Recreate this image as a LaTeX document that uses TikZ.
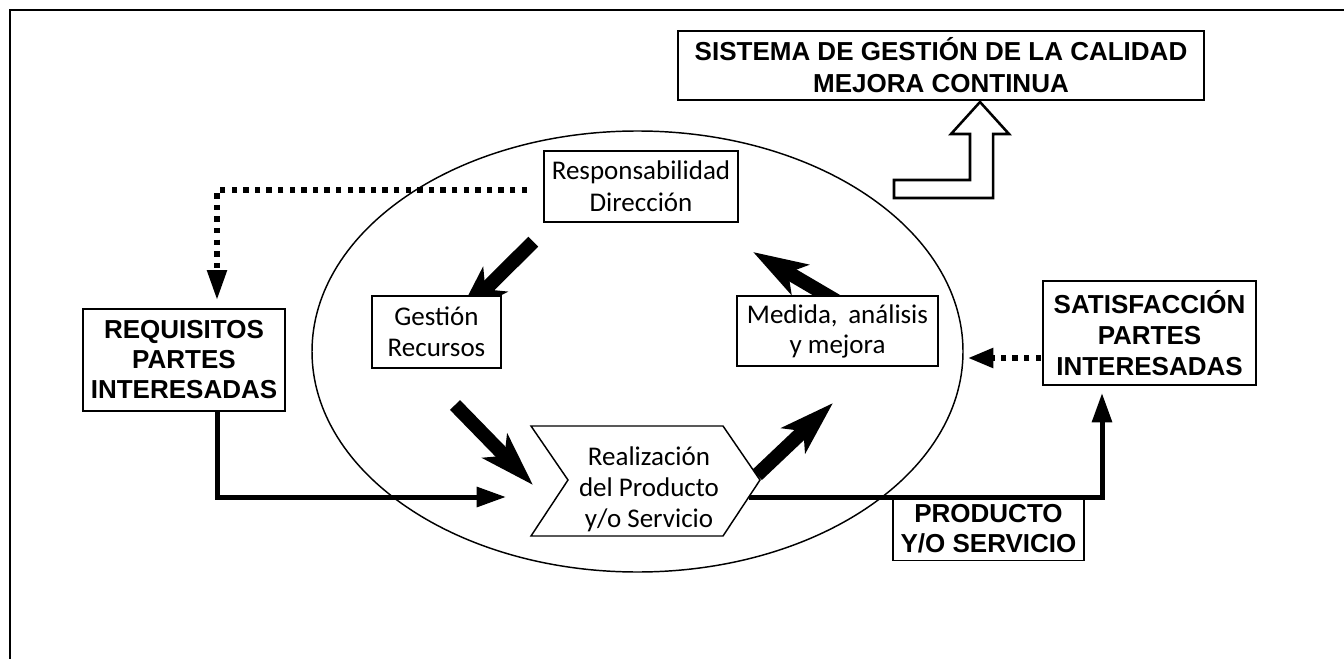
\documentclass[tikz,border=0pt]{standalone}
\usepackage{fontspec}
\newfontfamily\labfont{Liberation Sans}
\newfontfamily\regfont{Carlito}
\usetikzlibrary{arrows.meta,calc,shapes.geometric}
\begin{document}
\begin{tikzpicture}[x=0.75pt,y=-0.75pt,
  box/.style={draw, fill=white, line width=1.1pt, inner sep=0pt, align=center},
  boldlab/.style={font=\labfont\bfseries\fontsize{19.5}{22.5}\selectfont},
  reglab/.style={font=\regfont\fontsize{20.25}{23.25}\selectfont},
  fatarrow/.style={line width=10.5pt, line cap=butt, -{Stealth[length=40.5pt,width=25.5pt,inset=10pt]}},
  dotline/.style={line width=4.1pt, dash pattern=on 4.1pt off 4.6pt, -{Triangle[length=22.5pt,width=14.25pt]}},
  solidline/.style={line width=3.75pt, -{Triangle[length=22pt,width=14.5pt]}},
  hollow/.style={line width=1.9pt, fill=white, line join=miter}
]
\useasboundingbox (0,0) rectangle (1344,659);

% outer frame
\coordinate (fr1) at (10,659);
\coordinate (fr2) at (10,10);
\coordinate (fr3) at (1344,10);
\draw[line width=1.5pt] (fr1) -- (fr2) -- (fr3);

% ellipse
\node[draw, line width=1.1pt, ellipse, inner sep=0pt,
      minimum width=488.25pt, minimum height=330.75pt] (ell) at (637.5,351.5) {};

% fat arrow coordinates
\coordinate (fa1s) at (533.3,241.7);
\coordinate (fa1e) at (456.4,318);
\coordinate (fa2s) at (845,306);
\coordinate (fa2e) at (753,252);
\coordinate (fa3s) at (455,405);
\coordinate (fa3e) at (533,485);
\coordinate (fa4s) at (757,475);
\coordinate (fa4e) at (833,403);
\draw[fatarrow] (fa1s) -- (fa1e);
\draw[fatarrow] (fa2s) -- (fa2e);
\draw[fatarrow] (fa3s) -- (fa3e);
\draw[fatarrow] (fa4s) -- (fa4e);

% boxes
\node[box, minimum width=394.5pt, minimum height=51.75pt,
      font=\labfont\bfseries\fontsize{19.5}{24}\selectfont] (sgc) at (941,65.5)
      {SISTEMA DE GESTIÓN DE LA CALIDAD\\MEJORA CONTINUA};
\node[box, reglab, font=\regfont\fontsize{20.25}{24}\selectfont,
      minimum width=145.5pt, minimum height=53.25pt] (resp) at (641,186.5)
      {Responsabilidad\\Dirección};
\node[box, reglab, minimum width=96.75pt, minimum height=54pt] (gest) at (436.5,332)
      {Gestión\\Recursos};
\node[box, reglab, font=\regfont\fontsize{20.25}{22.5}\selectfont,
      minimum width=150.75pt, minimum height=52.5pt] (med) at (837.5,331)
      {Medida,\, análisis\\y mejora};
\node[box, boldlab, minimum width=151.5pt, minimum height=76.5pt] (req) at (184,360)
      {REQUISITOS\\PARTES\\INTERESADAS};
\node[box, boldlab, font=\labfont\bfseries\fontsize{19.5}{23.25}\selectfont,
      minimum width=159.75pt, minimum height=78pt] (sat) at (1149.5,333)
      {SATISFACCIÓN\\PARTES\\INTERESADAS};

% chevron (Realizacion)
\coordinate (ch1) at (531,426);
\coordinate (ch2) at (723,426);
\coordinate (chtip) at (760,480);
\coordinate (ch4) at (723,536);
\coordinate (ch5) at (531,536);
\coordinate (chnotch) at (568,480);
\draw[line width=1.1pt, fill=white, line join=miter] (ch1) -- (ch2) -- (chtip) -- (ch4) -- (ch5) -- (chnotch) -- cycle;
\node[reglab, align=center, inner sep=0pt] (real) at (649,489)
      {Realización\\del Producto\\y/o Servicio};

% dotted connectors
\coordinate (d1s) at (527,190);
\coordinate (d1c) at (217,190);
\coordinate (d1e) at (217,300);
\draw[dotline] (d1s) -- (d1c) -- (d1e);
\coordinate (d2s) at (1041,358);
\coordinate (d2e) at (968,358);
\draw[dotline, -{Triangle[length=19pt,width=14.25pt]}] (d2s) -- (d2e);

% solid connectors
\coordinate (s1s) at (217,411);
\coordinate (s1c) at (217,497);
\coordinate (s1e) at (506,497);
\draw[solidline] (s1s) -- (s1c) -- (s1e);
\coordinate (s2s) at (749,497);
\coordinate (s2c) at (1102,497);
\coordinate (s2e) at (1102,393);
\draw[solidline] (s2s) -- (s2c) -- (s2e);

% producto box
\node[box, boldlab, font=\labfont\bfseries\fontsize{19.5}{22.5}\selectfont,
      minimum width=143.25pt, minimum height=47.25pt] (prod) at (988.5,529)
      {PRODUCTO\\Y/O SERVICIO};
\draw[line width=3.75pt] (s2c -| prod.west) -- (s2c -| prod.east);

% hollow L arrow to SGC
\coordinate (ha) at (980,102);
\draw[hollow] (ha) -- (1009,134) -- (993,134) -- (993,198) -- (894,198) -- (894,180)
      -- (970,180) -- (970,134) -- (951,134) -- cycle;
\end{tikzpicture}
\end{document}
